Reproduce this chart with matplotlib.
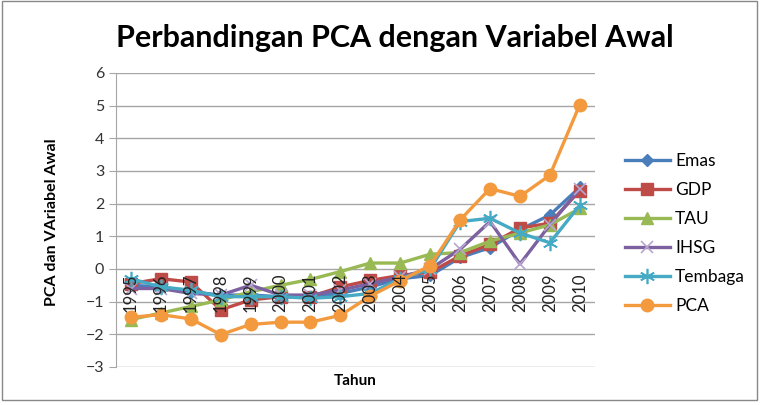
import matplotlib
matplotlib.use("Agg")
from matplotlib import pyplot as plt
from matplotlib.patches import Rectangle

years = ['1995', '1996', '1997', '1998', '1999', '2000', '2001', '2002',
         '2003', '2004', '2005', '2006', '2007', '2008', '2009', '2010']

emas = [-0.5, -0.55, -0.7, -0.8, -0.8, -0.85, -0.85, -0.75,
        -0.55, -0.3, -0.2, 0.35, 0.65, 1.2, 1.65, 2.5]
gdp = [-0.45, -0.3, -0.4, -1.25, -0.95, -0.85, -0.85, -0.55,
       -0.35, -0.2, -0.1, 0.4, 0.75, 1.25, 1.4, 2.4]
tau = [-1.55, -1.35, -1.15, -0.95, -0.7, -0.5, -0.32, -0.08,
       0.18, 0.18, 0.45, 0.5, 0.85, 1.1, 1.35, 1.85]
ihsg = [-0.6, -0.6, -0.75, -0.8, -0.5, -0.8, -0.8, -0.65,
        -0.45, -0.25, 0.0, 0.6, 1.45, 0.15, 1.35, 2.45]
tembaga = [-0.3, -0.55, -0.65, -0.85, -0.85, -0.85, -0.9, -0.85,
           -0.75, -0.3, 0.0, 1.45, 1.55, 1.1, 0.8, 1.95]
pca = [-1.48, -1.4, -1.53, -2.01, -1.7, -1.63, -1.63, -1.42,
       -0.83, -0.36, 0.1, 1.5, 2.46, 2.22, 2.87, 5.03]

series = [
    ('Emas', emas, '#4A7EBB', 'D', 6.5),
    ('GDP', gdp, '#BE4B48', 's', 8.5),
    ('TAU', tau, '#98B954', '^', 8.5),
    ('IHSG', ihsg, '#7D60A0', 'x', 9),
    ('Tembaga', tembaga, '#46AAC5', (6, 2, 0), 11),
    ('PCA', pca, '#F39A3E', 'o', 9),
]

plt.rcParams['font.family'] = ['Lato', 'DejaVu Sans']

fig = plt.figure(figsize=(7.6, 4.05), dpi=100)
ax = fig.add_axes([0.1526, 0.094, 0.630, 0.726])

x = list(range(len(years)))
for name, vals, color, marker, ms in series:
    if marker == 'x':
        ax.plot(x, vals, color=color, lw=2.4, marker='x', ms=ms, mew=1.2,
                mec='#B7A6CF', label=name)
    elif isinstance(marker, tuple):
        ax.plot(x, vals, color=color, lw=2.4, marker=marker, ms=ms, mew=1.2, label=name)
    else:
        ax.plot(x, vals, color=color, lw=2.4, marker=marker, ms=ms, label=name)

ax.set_xlim(-0.5, len(years) - 0.5)
ax.set_ylim(-3, 6)
ax.set_yticks(range(-3, 7))
ax.yaxis.grid(True, color='#A6A6A6', lw=1)
ax.set_axisbelow(True)
ax.set_xticks([])
for s in ['top', 'right', 'bottom']:
    ax.spines[s].set_visible(False)
ax.spines['left'].set_color('#A6A6A6')
ax.tick_params(axis='y', length=5, color='#A6A6A6', labelsize=11.5, labelcolor='#333333')

for i, yr in enumerate(years):
    ax.text(i, -0.15, yr, rotation=90, ha='center', va='top', fontsize=12,
            color='#222222')

fig.text(0.52, 0.905, 'Perbandingan PCA dengan Variabel Awal', ha='center',
         va='center', fontsize=22, fontweight='bold')
fig.text(0.068, 0.452, 'PCA dan VAriabel Awal', rotation=90, ha='center',
         va='center', fontsize=11.5, fontweight='bold')
fig.text(0.468, 0.06, 'Tahun', ha='center', va='center', fontsize=11,
         fontweight='bold')

ax.legend(loc='center left', bbox_to_anchor=(1.03, 0.455), frameon=False,
          fontsize=12.5, handlelength=2.6, labelspacing=0.75, handletextpad=0.3)

fig.patches.append(Rectangle((0.003, 0.012), 0.993, 0.985, transform=fig.transFigure,
                             fill=False, edgecolor='#888888', lw=1))

fig.savefig('out.png', dpi=100)
